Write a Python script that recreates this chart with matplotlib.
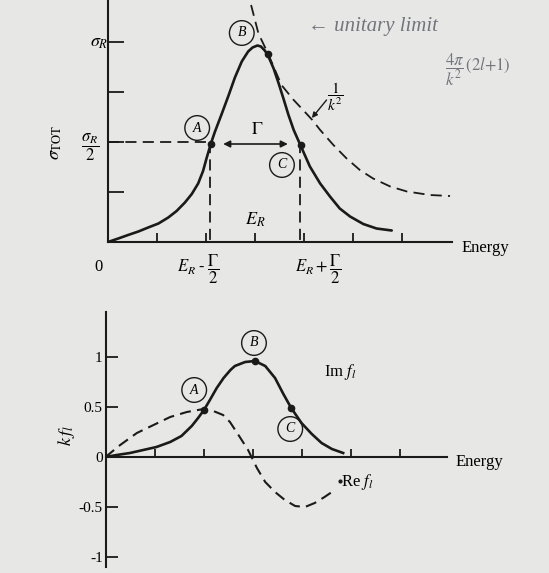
import matplotlib
matplotlib.use("Agg")
import matplotlib.pyplot as plt

plt.rcParams['font.family'] = ['Liberation Serif', 'DejaVu Serif']
plt.rcParams['mathtext.fontset'] = 'stix'
plt.rcParams['lines.scale_dashes'] = False

# --- upper panel: total cross section through a resonance ---
e_sig = [0, 0.21, 0.41, 0.62, 0.82, 1.03, 1.23, 1.40, 1.57, 1.71, 1.84, 1.94, 2.01,
         2.10, 2.18, 2.32, 2.46, 2.59, 2.73, 2.86, 2.95, 3.05, 3.12, 3.20, 3.27, 3.38,
         3.48, 3.58, 3.68, 3.79, 3.93, 4.12, 4.33, 4.53, 4.73, 4.94, 5.21, 5.48, 5.79]
sig = [0, 0.07, 0.14, 0.21, 0.29, 0.37, 0.49, 0.62, 0.79, 0.96, 1.17, 1.42, 1.67,
       1.97, 2.2, 2.56, 2.93, 3.29, 3.61, 3.81, 3.89, 3.93, 3.91, 3.83, 3.72, 3.47,
       3.18, 2.87, 2.55, 2.24, 1.93, 1.51, 1.17, 0.91, 0.67, 0.51, 0.36, 0.27, 0.23]

# unitarity bound ~ 1/k^2
e_unit = [2.92, 3.07, 3.26, 3.54, 3.78, 4.0, 4.17, 4.33, 4.6, 4.87, 5.14, 5.41, 5.76,
          6.1, 6.57, 6.98]
unit = [4.74, 4.17, 3.78, 3.14, 2.85, 2.62, 2.44, 2.24, 1.94, 1.67, 1.44, 1.27, 1.11,
        1.01, 0.94, 0.92]

sig_ticks = [1, 2, 3, 4]
e_ticks = [1, 2, 3, 4, 5, 6]
half = 2.0
e_A, e_C = 2.08, 3.91
pts_sig = {'A': (2.10, 1.97), 'B': (3.26, 3.76), 'C': (3.93, 1.94)}

# --- lower panel: partial wave amplitude k f_l ---
e_f = [0, 0.23, 0.5, 0.77, 1.04, 1.32, 1.55, 1.76, 1.89, 2.01, 2.13, 2.27, 2.41, 2.55,
       2.64, 2.85, 3.05, 3.26, 3.46, 3.63, 3.79, 4.0, 4.21, 4.41, 4.62, 4.85]
im_f = [0, 0.02, 0.04, 0.07, 0.10, 0.15, 0.21, 0.31, 0.39, 0.47, 0.57, 0.69, 0.79, 0.87,
        0.91, 0.95, 0.96, 0.91, 0.79, 0.63, 0.49, 0.34, 0.23, 0.14, 0.08, 0.04]
e_re = [0, 0.3, 0.64, 0.98, 1.32, 1.66, 2.0, 2.2, 2.4, 2.54, 2.74, 2.91, 3.09, 3.26,
        3.46, 3.66, 3.87, 4.07, 4.27, 4.47, 4.68]
re_f = [0, 0.12, 0.24, 0.32, 0.40, 0.45, 0.48, 0.46, 0.42, 0.35, 0.2, 0.07, -0.11,
        -0.25, -0.35, -0.43, -0.49, -0.5, -0.46, -0.40, -0.33]
f_ticks = [-1, -0.5, 0, 0.5, 1]
f_labels = ['-1', '-0.5', '0', '0.5', '1']
pts_f = {'A': (2.01, 0.47), 'B': (3.05, 0.96), 'C': (3.79, 0.49)}
re_end = (4.79, -0.24)

bg = '#e7e8e5'
ink = '#1a1a1a'
pen = '#74747e'
dash = (0, (8, 4.5))

fig = plt.figure(figsize=(5.49, 5.73), dpi=100, facecolor=bg)

ax1 = fig.add_axes([108/549, 1 - 242/573, 344/549, 242/573])
ax2 = fig.add_axes([105.5/549, 6/573, 341.5/549, 255/573])

for ax in (ax1, ax2):
    ax.set_facecolor('none')
    ax.spines['top'].set_visible(False)
    ax.spines['right'].set_visible(False)
    for s in ('left', 'bottom'):
        ax.spines[s].set_linewidth(1.5)
        ax.spines[s].set_color(ink)

# upper panel
ax1.set_xlim(0, 344/49)
ax1.set_ylim(0, 242/50)
ax1.set_xticks(e_ticks)
ax1.set_yticks(sig_ticks)
ax1.set_xticklabels([])
ax1.set_yticklabels([])
ax1.tick_params(axis='y', direction='in', length=11.5, width=1.3, color=ink)
ax1.tick_params(axis='x', direction='in', length=6.5, width=1.3, color=ink)

ax1.plot(e_sig, sig, color=ink, lw=1.9, solid_capstyle='round', solid_joinstyle='round')
ax1.plot(e_unit, unit, color=ink, lw=1.3, linestyle=dash)
ax1.plot([0, e_A], [half, half], color=ink, lw=1.3, linestyle=dash)
ax1.plot([e_A, e_A], [half, 0], color=ink, lw=1.3, linestyle=dash)
ax1.plot([e_C, e_C], [half, 0], color=ink, lw=1.3, linestyle=dash)
ax1.plot([p[0] for p in pts_sig.values()], [p[1] for p in pts_sig.values()], 'o',
         color=ink, ms=4.5)
ax1.annotate('', xy=(2.35, 1.96), xytext=(3.67, 1.96),
             arrowprops=dict(arrowstyle='<|-|>', color=ink, lw=1.2,
                             mutation_scale=10, shrinkA=0, shrinkB=0))
ax1.text(3.04, 2.26, r'$\Gamma$', fontsize=13, ha='center', va='center')
ax1.text(3.0, 0.44, r'$E_R$', fontsize=13, ha='center', va='center')

ax1.text(-0.18, 4.0, r'$\sigma_R$', fontsize=13, ha='center', va='center')
ax1.text(-0.37, 1.9, r'$\dfrac{\sigma_R}{2}$', fontsize=12, ha='center', va='center')
ax1.text(-1.08, 2.0, r'$\sigma_{\mathrm{TOT}}$', fontsize=13, ha='center',
         va='center', rotation=90)
ax1.text(-0.2, -0.5, '0', fontsize=12, ha='center', va='center')
ax1.text(1.84, -0.55, r'$E_R\;\text{-}\;\dfrac{\Gamma}{2}$', fontsize=12,
         ha='center', va='center', clip_on=False)
ax1.text(4.29, -0.55, r'$E_R + \dfrac{\Gamma}{2}$', fontsize=12,
         ha='center', va='center', clip_on=False)
ax1.text(7.71, -0.12, 'Energy', fontsize=12, ha='center', va='center')

ax1.text(4.64, 2.9, r'$\dfrac{1}{k^2}$', fontsize=11, ha='center', va='center')
ax1.annotate('', xy=(4.16, 2.48), xytext=(4.46, 2.84),
             arrowprops=dict(arrowstyle='-|>', color=ink, lw=1.0,
                             mutation_scale=8, shrinkA=0, shrinkB=0))

circ = dict(boxstyle='circle,pad=0.42', fc='none', ec=ink, lw=1.0)
for lab, (x, y) in {'A': (1.82, 2.28), 'B': (2.73, 4.18), 'C': (3.55, 1.54)}.items():
    ax1.text(x, y, lab, fontsize=10, style='italic', ha='center', va='center',
             bbox=circ)

# handwritten margin notes
ax1.text(5.41, 4.3, '\u2190 unitary limit', fontsize=15, style='italic',
         color=pen, ha='center', va='center', clip_on=False)
ax1.text(7.55, 3.45, r'$\dfrac{4\pi}{k^2}\,(2l{+}1)$', fontsize=12,
         color=pen, ha='center', va='center', clip_on=False)

# lower panel
ax2.set_xlim(0, 341.5/49)
ax2.set_ylim(-110/100, 145/100)
ax2.spines['bottom'].set_position(('data', 0))
ax2.set_xticks(e_ticks)
ax2.set_xticklabels([])
ax2.set_yticks(f_ticks)
ax2.set_yticklabels(f_labels, fontsize=11)
ax2.tick_params(axis='y', direction='in', length=8.5, width=1.3, color=ink, pad=2)
ax2.tick_params(axis='x', direction='in', length=6, width=1.3, color=ink)

ax2.plot(e_f, im_f, color=ink, lw=1.9, solid_joinstyle='round')
ax2.plot(e_re, re_f, color=ink, lw=1.5, linestyle=dash)
ax2.plot([p[0] for p in pts_f.values()], [p[1] for p in pts_f.values()], 'o',
         color=ink, ms=4.5)
ax2.plot([re_end[0]], [re_end[1]], 'o', color=ink, ms=2)

for lab, (x, y) in {'A': (1.81, 0.67), 'B': (3.03, 1.14), 'C': (3.77, 0.28)}.items():
    ax2.text(x, y, lab, fontsize=10, style='italic', ha='center', va='center',
             bbox=circ)

ax2.text(4.79, 0.85, r'Im $f_l$', fontsize=12, ha='center', va='center')
ax2.text(5.13, -0.25, r'Re $f_l$', fontsize=12, ha='center', va='center')
ax2.text(-0.79, 0.21, r'$k\,f_l$', fontsize=13, ha='center', va='center',
         rotation=90)
ax2.text(7.64, -0.05, 'Energy', fontsize=12, ha='center', va='center',
         clip_on=False)

fig.savefig('out.png', dpi=100, facecolor=bg)
